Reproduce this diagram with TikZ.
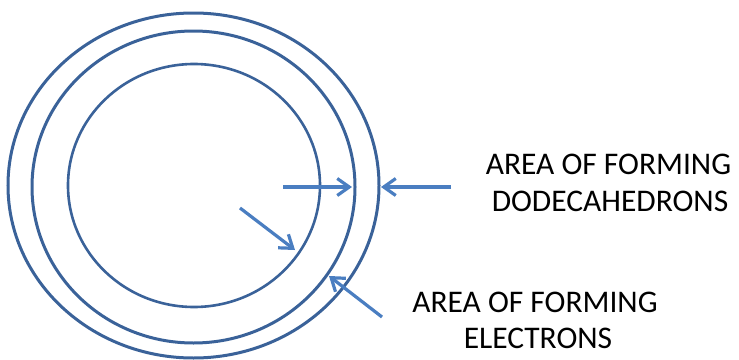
\documentclass[tikz,border=0pt]{standalone}
\usepackage{fontspec}
\setmainfont{Carlito}
\usetikzlibrary{arrows.meta,shapes.geometric}
\definecolor{ringblue}{RGB}{58,98,153}
\definecolor{arrowblue}{RGB}{74,126,193}
\begin{document}
\begin{tikzpicture}[x=1pt,y=-1pt,
  ring/.style={draw=ringblue,line width=3pt,ellipse,inner sep=0pt,minimum width=#1},
  ptr/.style={draw=arrowblue,line width=3.2pt,-{Straight Barb[length=12pt,width=17pt,line width=3.2pt]}},
  lbl/.style={font=\fontsize{31.5}{38}\selectfont,anchor=base,inner sep=0pt}]
\useasboundingbox (0,0) rectangle (739,359);
\node[ring=371pt,minimum height=345pt] (outer) at (193.5,185.5) {};
\node[ring=323pt,minimum height=312pt] (middle) at (193.5,187) {};
\node[ring=252pt,minimum height=243pt,line width=2.6pt] (inner) at (194,185.5) {};
\coordinate (a1s) at (283,187);
\coordinate (a1e) at (352,187);
\coordinate (a2s) at (451,187);
\coordinate (a2e) at (381,187);
\coordinate (a3s) at (240,208);
\coordinate (a3e) at (295,250);
\coordinate (a4s) at (382,317);
\coordinate (a4e) at (329,276);
\draw[ptr] (a1s) -- (a1e);
\draw[ptr] (a2s) -- (a2e);
\draw[ptr] (a3s) -- (a3e);
\draw[ptr] (a4s) -- (a4e);
\node[lbl] (d1) at (608.5,174) {AREA OF FORMING};
\node[lbl] (d2) at (610,211) {DODECAHEDRONS};
\node[lbl] (e1) at (535,312) {AREA OF FORMING};
\node[lbl] (e2) at (538,348) {ELECTRONS};
\end{tikzpicture}
\end{document}
